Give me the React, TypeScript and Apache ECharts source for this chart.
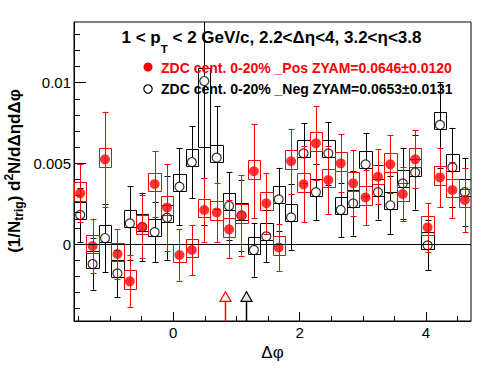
import React, { useEffect, useRef } from "react";
import * as echarts from "echarts";

// ---- data (values in units of 1e-3) ----
const N_BINS = 32;
const X_MIN = -Math.PI / 2;
const X_MAX = (3 * Math.PI) / 2;
const Y_MIN = -0.00477;
const Y_MAX = 0.01376;

const posVal = [3.14, -0.12, 5.25, -0.62, -2.31, 1.07, 3.72, 2.27, -0.68, -0.37, 2.11, 1.96, 0.91, 1.78, 4.51, 2.53, -0.21, 5.13, 3.70, 6.24, 3.97, 5.00, 3.76, 2.89, 4.17, 4.94, 3.10, 5.25, 1.03, 4.13, 3.35, 2.73];
const posStat = [1.80, 1.70, 2.95, 1.55, 1.60, 1.95, 2.05, 2.70, 1.60, 1.55, 2.00, 1.85, 1.80, 2.50, 2.90, 1.90, 1.45, 2.00, 2.35, 2.30, 2.10, 1.80, 2.05, 1.70, 1.70, 1.80, 1.70, 1.80, 1.50, 1.85, 1.75, 2.00];
const posSysUp = 0.70;
const posSysDown = 0.45;

const negVal = [1.80, -1.24, 0.37, -1.82, 1.28, 1.05, 0.74, 1.63, 3.55, 5.08, 10.10, 5.35, 2.36, 1.76, -0.37, 0.48, 2.77, 1.65, 5.62, 3.22, 5.62, 2.11, 2.52, 4.94, 3.22, 2.40, 3.76, 4.44, -0.08, 7.38, 4.75, 3.22];
const negStat = [1.70, 1.60, 2.10, 1.45, 2.30, 2.10, 1.85, 2.60, 2.40, 2.24, 8.90, 3.20, 2.10, 2.20, 1.65, 1.60, 1.95, 2.05, 1.85, 1.75, 1.95, 1.70, 2.00, 1.95, 1.70, 1.80, 2.20, 2.30, 1.55, 2.65, 2.45, 2.10];
const negSysUp = 0.80;
const negSysDown = [0.25, 0.25, 0.25, 0.25, 0.25, 0.25, 0.25, 0.25, 0.25, 0.25, 4.10, 0.25, 0.25, 0.25, 0.25, 0.25, 0.25, 0.25, 0.25, 0.25, 0.25, 0.25, 0.25, 0.25, 0.25, 0.25, 0.25, 0.25, 0.25, 0.25, 0.25, 0.25];

const zyamX = [0.82, 1.15];
const zyamTipY = [-2.96, -2.96];
const zyamColors = ["#ff0000", "#000000"];
const zyamFills = ["#f4f4f4", "#e4e4e4"];

const xMajor = [0, 2, 4];
const xMinor = [-1.5, -1, -0.5, 0.5, 1, 1.5, 2.5, 3, 3.5, 4.5];
const yMajor = [0, 0.005, 0.01];
const yMinor = [-0.004, -0.003, -0.002, -0.001, 0.001, 0.002, 0.003, 0.004, 0.006, 0.007, 0.008, 0.009, 0.011, 0.012, 0.013];

const titleParts = ["1 < p", "T", " < 2 GeV/c, 2.2<\u0394\u03b7<4, 3.2<\u03b7<3.8"];
const legendPos = "ZDC cent. 0-20% _Pos ZYAM=0.0646\u00b10.0120";
const legendNeg = "ZDC cent. 0-20% _Neg ZYAM=0.0653\u00b10.0131";
const yTitleParts = ["(1/N", "trig", ") d", "2", "N/d\u0394\u03b7d\u0394\u03c6"];
const xTitle = "\u0394\u03c6";

const FONT = '"Liberation Sans", Arial, sans-serif';
const S = 0.001;

const binW = (X_MAX - X_MIN) / N_BINS;
const binCenter = (i: number) => X_MIN + (i + 0.5) * binW;

function measure(text: string, font: string): number {
  const ctx = document.createElement("canvas").getContext("2d")!;
  ctx.font = font;
  return ctx.measureText(text).width;
}

const px = (v: number) => Math.round(v) + 0.5;

function boxRender(color: string) {
  return (params: any, api: any) => {
    const p1 = api.coord([api.value(0), api.value(3)]);
    const p2 = api.coord([api.value(1), api.value(2)]);
    const x = px(p1[0]);
    const y = px(p1[1]);
    return {
      type: "rect",
      shape: { x, y, width: px(p2[0]) - x, height: px(p2[1]) - y },
      style: { fill: "none", stroke: color, lineWidth: 1 },
    };
  };
}

function errRender(color: string, gap: number) {
  return (params: any, api: any) => {
    const x = api.value(0), y = api.value(1), e = api.value(2);
    const c = api.coord([x, y]);
    const t = api.coord([x, y + e]);
    const b = api.coord([x, y - e]);
    const cx = px(c[0]);
    const style = { stroke: color, lineWidth: 1 };
    const cap = 3;
    const ch: any[] = [];
    if (c[1] - t[1] > gap) ch.push({ type: "line", shape: { x1: cx, y1: t[1], x2: cx, y2: c[1] - gap }, style });
    if (b[1] - c[1] > gap) ch.push({ type: "line", shape: { x1: cx, y1: c[1] + gap, x2: cx, y2: b[1] }, style });
    ch.push({ type: "line", shape: { x1: cx - cap, y1: px(t[1]), x2: cx + cap, y2: px(t[1]) }, style });
    ch.push({ type: "line", shape: { x1: cx - cap, y1: px(b[1]), x2: cx + cap, y2: px(b[1]) }, style });
    return { type: "group", children: ch };
  };
}

export default function App() {
  const ref = useRef<HTMLDivElement>(null);

  useEffect(() => {
    if (!ref.current) return;
    const chart = echarts.init(ref.current, null, { renderer: "svg" });

    const posBoxes = posVal.map((v, i) => [binCenter(i) - binW / 2, binCenter(i) + binW / 2, (v - posSysDown) * S, (v + posSysUp) * S]);
    const negBoxes = negVal.map((v, i) => [binCenter(i) - binW / 2, binCenter(i) + binW / 2, (v - negSysDown[i]) * S, (v + negSysUp) * S]);
    const posErr = posVal.map((v, i) => [binCenter(i), v * S, posStat[i] * S]);
    const negErr = negVal.map((v, i) => [binCenter(i), v * S, negStat[i] * S]);
    const posPts = posVal.map((v, i) => [binCenter(i), v * S]);
    const negPts = negVal.map((v, i) => [binCenter(i), v * S]);
    const tri = zyamX.map((x, i) => [x, zyamTipY[i] * S, i]);

    // title layout
    const fMain = `bold 17px ${FONT}`;
    const fSub = `bold 11.5px ${FONT}`;
    const w0 = measure(titleParts[0], fMain);
    const w1 = measure(titleParts[1], fSub);
    const w2 = measure(titleParts[2], fMain);
    const tx0 = 271.5 - (w0 + w1 + w2) / 2;

    // y title layout
    const fY = `bold 17px ${FONT}`;
    const fYs = `bold 12px ${FONT}`;
    const yFonts = [fY, fYs, fY, fYs, fY];
    const yOffs = [0, 4.5, 0, -5.5, 0];
    const yWs = yTitleParts.map((t, i) => measure(t, yFonts[i]));
    const yTot = yWs.reduce((a, b) => a + b, 0);
    let acc = -yTot / 2;
    const yChildren = yTitleParts.map((t, i) => {
      const el = {
        type: "text",
        x: acc,
        y: yOffs[i],
        style: { text: t, font: yFonts[i], fill: "#000", align: "left", verticalAlign: "middle" },
      };
      acc += yWs[i];
      return el;
    });

    const axisCommon = { color: "#000", fontSize: 15, fontFamily: FONT };
    const fLeg = `bold 14px ${FONT}`;

    chart.setOption({
      animation: false,
      backgroundColor: "#ffffff",
      grid: { left: 74, top: 22, width: 397, height: 299, show: true, borderColor: "#000", borderWidth: 1, backgroundColor: "rgba(0,0,0,0)" },
      xAxis: [
        {
          type: "value", min: X_MIN, max: X_MAX, position: "bottom",
          axisLine: { show: true, onZero: false, lineStyle: { color: "#000", width: 1 } },
          axisTick: { show: true, inside: true, length: 9, customValues: xMajor, lineStyle: { color: "#000" } },
          axisLabel: { show: true, customValues: xMajor, margin: 4, formatter: (v: number) => String(v), ...axisCommon },
          splitLine: { show: false },
        },
        {
          type: "value", min: X_MIN, max: X_MAX, position: "bottom",
          axisLine: { show: false, onZero: false },
          axisTick: { show: true, inside: true, length: 5, customValues: xMinor, lineStyle: { color: "#000" } },
          axisLabel: { show: false },
          splitLine: { show: false },
        },
      ],
      yAxis: [
        {
          type: "value", min: Y_MIN, max: Y_MAX, position: "left",
          axisLine: { show: true, onZero: false, lineStyle: { color: "#000", width: 1 } },
          axisTick: { show: true, inside: true, length: 12, customValues: yMajor, lineStyle: { color: "#000" } },
          axisLabel: { show: true, customValues: yMajor, margin: 3, formatter: (v: number) => (v === 0 ? "0" : String(+v.toFixed(4))), ...axisCommon },
          splitLine: { show: false },
        },
        {
          type: "value", min: Y_MIN, max: Y_MAX, position: "left",
          axisLine: { show: false, onZero: false },
          axisTick: { show: true, inside: true, length: 6, customValues: yMinor, lineStyle: { color: "#000" } },
          axisLabel: { show: false },
          splitLine: { show: false },
        },
      ],
      series: [
        {
          type: "custom", name: "negBox", clip: true, renderItem: boxRender("#000"), data: negBoxes,
          encode: { x: [0, 1], y: [2, 3] }, silent: true,
          markLine: {
            silent: true, symbol: ["none", "none"], label: { show: false },
            lineStyle: { color: "#000", width: 1, type: "solid" }, data: [{ yAxis: 0 }],
          },
        },
        { type: "custom", name: "posBox", clip: true, renderItem: boxRender("#ff0000"), data: posBoxes, encode: { x: [0, 1], y: [2, 3] }, silent: true },
        { type: "custom", name: "negErr", clip: true, renderItem: errRender("#000", 4.5), data: negErr, encode: { x: 0, y: 1 }, silent: true },
        {
          type: "scatter", name: "neg", data: negPts, symbol: "circle", symbolSize: 9, clip: true,
          itemStyle: { color: "rgba(255,255,255,0)", borderColor: "#000", borderWidth: 1.2 }, silent: true,
        },
        { type: "custom", name: "posErr", clip: true, renderItem: errRender("#ff0000", 0), data: posErr, encode: { x: 0, y: 1 }, silent: true },
        {
          type: "scatter", name: "pos", data: posPts, symbol: "circle", symbolSize: 10, clip: true,
          itemStyle: { color: "#ff0000", borderWidth: 0 }, silent: true,
        },
        {
          type: "custom", name: "zyam", clip: true, silent: true, data: tri, encode: { x: 0, y: 1 },
          renderItem: (params: any, api: any) => {
            const x = api.value(0), y = api.value(1), k = api.value(2);
            const a = api.coord([x, y]);
            const bot = api.coord([x, Y_MIN]);
            const ax = px(a[0]);
            const h = 9.5, hw = 5.5;
            return {
              type: "group",
              children: [
                { type: "line", shape: { x1: ax, y1: a[1] + h, x2: ax, y2: bot[1] }, style: { stroke: zyamColors[k], lineWidth: 1.5 } },
                { type: "polygon", shape: { points: [[ax, a[1]], [ax - hw, a[1] + h], [ax + hw, a[1] + h]] }, style: { fill: zyamFills[k], stroke: zyamColors[k], lineWidth: 1.2 } },
              ],
            };
          },
        },
      ],
      graphic: [
        { type: "text", x: tx0, y: 37.5, style: { text: titleParts[0], font: fMain, fill: "#000", align: "left", verticalAlign: "middle" }, z: 100 },
        { type: "text", x: tx0 + w0, y: 49, style: { text: titleParts[1], font: fSub, fill: "#000", align: "left", verticalAlign: "middle" }, z: 100 },
        { type: "text", x: tx0 + w0 + w1, y: 37.5, style: { text: titleParts[2], font: fMain, fill: "#000", align: "left", verticalAlign: "middle" }, z: 100 },
        { type: "circle", shape: { cx: 148, cy: 67, r: 4.5 }, style: { fill: "#ff0000" }, z: 100 },
        { type: "text", x: 161, y: 67.5, style: { text: legendPos, font: fLeg, fill: "#ff0000", align: "left", verticalAlign: "middle" }, z: 100 },
        { type: "circle", shape: { cx: 148, cy: 89, r: 4.2 }, style: { fill: "none", stroke: "#000", lineWidth: 1.2 }, z: 100 },
        { type: "text", x: 161, y: 89, style: { text: legendNeg, font: fLeg, fill: "#000", align: "left", verticalAlign: "middle" }, z: 100 },
        { type: "group", x: 14, y: 171, rotation: Math.PI / 2, children: yChildren, z: 100 },
        { type: "text", x: 272.5, y: 352, style: { text: xTitle, font: `17px ${FONT}`, fill: "#000", align: "center", verticalAlign: "middle" }, z: 100 },
      ],
    });

    return () => chart.dispose();
  }, []);

  return <div ref={ref} style={{ position: "fixed", left: 0, top: 0, width: 496, height: 374, background: "#fff" }} />;
}
